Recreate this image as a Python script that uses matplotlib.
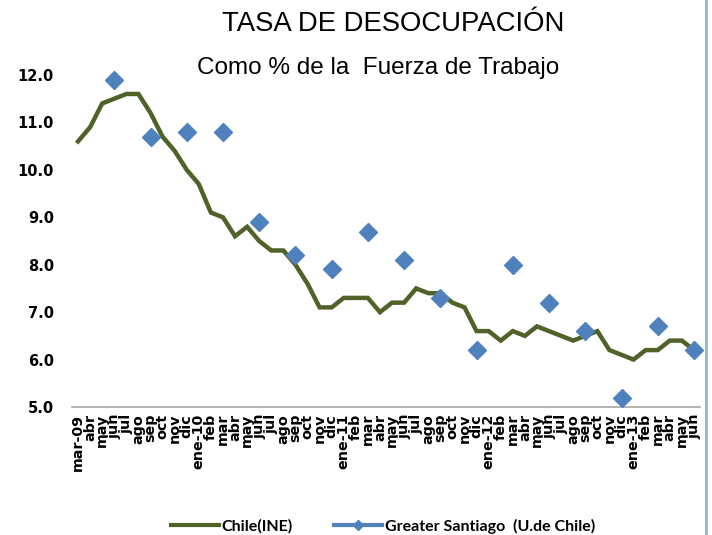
import matplotlib
matplotlib.use("Agg")
import matplotlib.pyplot as plt
from matplotlib.lines import Line2D

months = ["mar-09", "abr", "may", "jun", "jul", "ago", "sep", "oct", "nov", "dic",
          "ene-10", "feb", "mar", "abr", "may", "jun", "jul", "ago", "sep", "oct", "nov", "dic",
          "ene-11", "feb", "mar", "abr", "may", "jun", "jul", "ago", "sep", "oct", "nov", "dic",
          "ene-12", "feb", "mar", "abr", "may", "jun", "jul", "ago", "sep", "oct", "nov", "dic",
          "ene-13", "feb", "mar", "abr", "may", "jun"]

chile_ine = [10.6, 10.9, 11.4, 11.5, 11.6, 11.6, 11.2, 10.7, 10.4, 10.0,
             9.7, 9.1, 9.0, 8.6, 8.8, 8.5, 8.3, 8.3, 8.0, 7.6, 7.1, 7.1,
             7.3, 7.3, 7.3, 7.0, 7.2, 7.2, 7.5, 7.4, 7.4, 7.2, 7.1, 6.6,
             6.6, 6.4, 6.6, 6.5, 6.7, 6.6, 6.5, 6.4, 6.5, 6.6, 6.2, 6.1,
             6.0, 6.2, 6.2, 6.4, 6.4, 6.2]

santiago_months = ["jun-09", "sep-09", "dic-09", "mar-10", "jun-10", "sep-10", "dic-10",
                   "mar-11", "jun-11", "sep-11", "dic-11", "mar-12", "jun-12", "sep-12",
                   "dic-12", "mar-13", "jun-13"]
santiago_idx = [3, 6, 9, 12, 15, 18, 21, 24, 27, 30, 33, 36, 39, 42, 45, 48, 51]
santiago = [11.9, 10.7, 10.8, 10.8, 8.9, 8.2, 7.9, 8.7, 8.1, 7.3, 6.2, 8.0, 7.2, 6.6, 5.2, 6.7, 6.2]

yticks = [5.0, 6.0, 7.0, 8.0, 9.0, 10.0, 11.0, 12.0]

W, H = 712, 535
fig = plt.figure(figsize=(W / 100, H / 100), dpi=100)
ax = fig.add_axes([72 / W, 1 - 407 / H, (700 - 72) / W, (407 - 75) / H])

green = "#4F6228"
blue = "#4F81BD"

x = list(range(len(months)))
ax.plot(x, chile_ine, color=green, lw=3.2, solid_joinstyle="miter", clip_on=False, zorder=2)
ax.plot(santiago_idx, santiago, linestyle="none", marker="D", markersize=9,
        color=blue, markeredgecolor=blue, clip_on=False, zorder=3)

ax.set_xlim(-0.5, len(months) - 0.5)
ax.set_ylim(5.0, 12.0)
ax.set_yticks(yticks)
ax.set_yticklabels([f"{v:.1f}" for v in yticks], fontsize=10.5, fontweight="bold",
                   family="DejaVu Sans")
ax.set_xticks(x)
ax.set_xticklabels(months, rotation=90, fontsize=10.3, fontweight="bold",
                   family="DejaVu Sans", va="top", ha="center")
ax.tick_params(axis="both", length=0)
ax.tick_params(axis="y", pad=13)
ax.tick_params(axis="x", pad=5)
for s in ["left", "right", "top"]:
    ax.spines[s].set_visible(False)
ax.spines["bottom"].set_color("#A6A6A6")
ax.spines["bottom"].set_linewidth(1.2)

fig.text(393 / W, 1 - 24 / H, "TASA DE DESOCUPACIÓN", ha="center", va="center",
         fontsize=19.8, family="Liberation Sans")
fig.text(378 / W, 1 - 68 / H, "Como % de la  Fuerza de Trabajo", ha="center", va="center",
         fontsize=17.5, family="Liberation Sans")

handles = [Line2D([], [], color=green, lw=3),
           Line2D([], [], color=blue, lw=3, marker="D", markersize=5)]
fig.legend(handles, ["Chile(INE)", "Greater Santiago  (U.de Chile)"], loc="center",
           bbox_to_anchor=(383 / W, 1 - 526 / H), ncol=2, frameon=False,
           prop={"family": "Lato", "weight": "bold", "size": 11.5}, handlelength=3.0,
           handletextpad=0.15, columnspacing=2.6)

fig.add_artist(Line2D([706 / W, 706 / W], [0, 1], transform=fig.transFigure,
                      color="#8EB4E3", lw=2))

fig.savefig("out.png", dpi=100)
